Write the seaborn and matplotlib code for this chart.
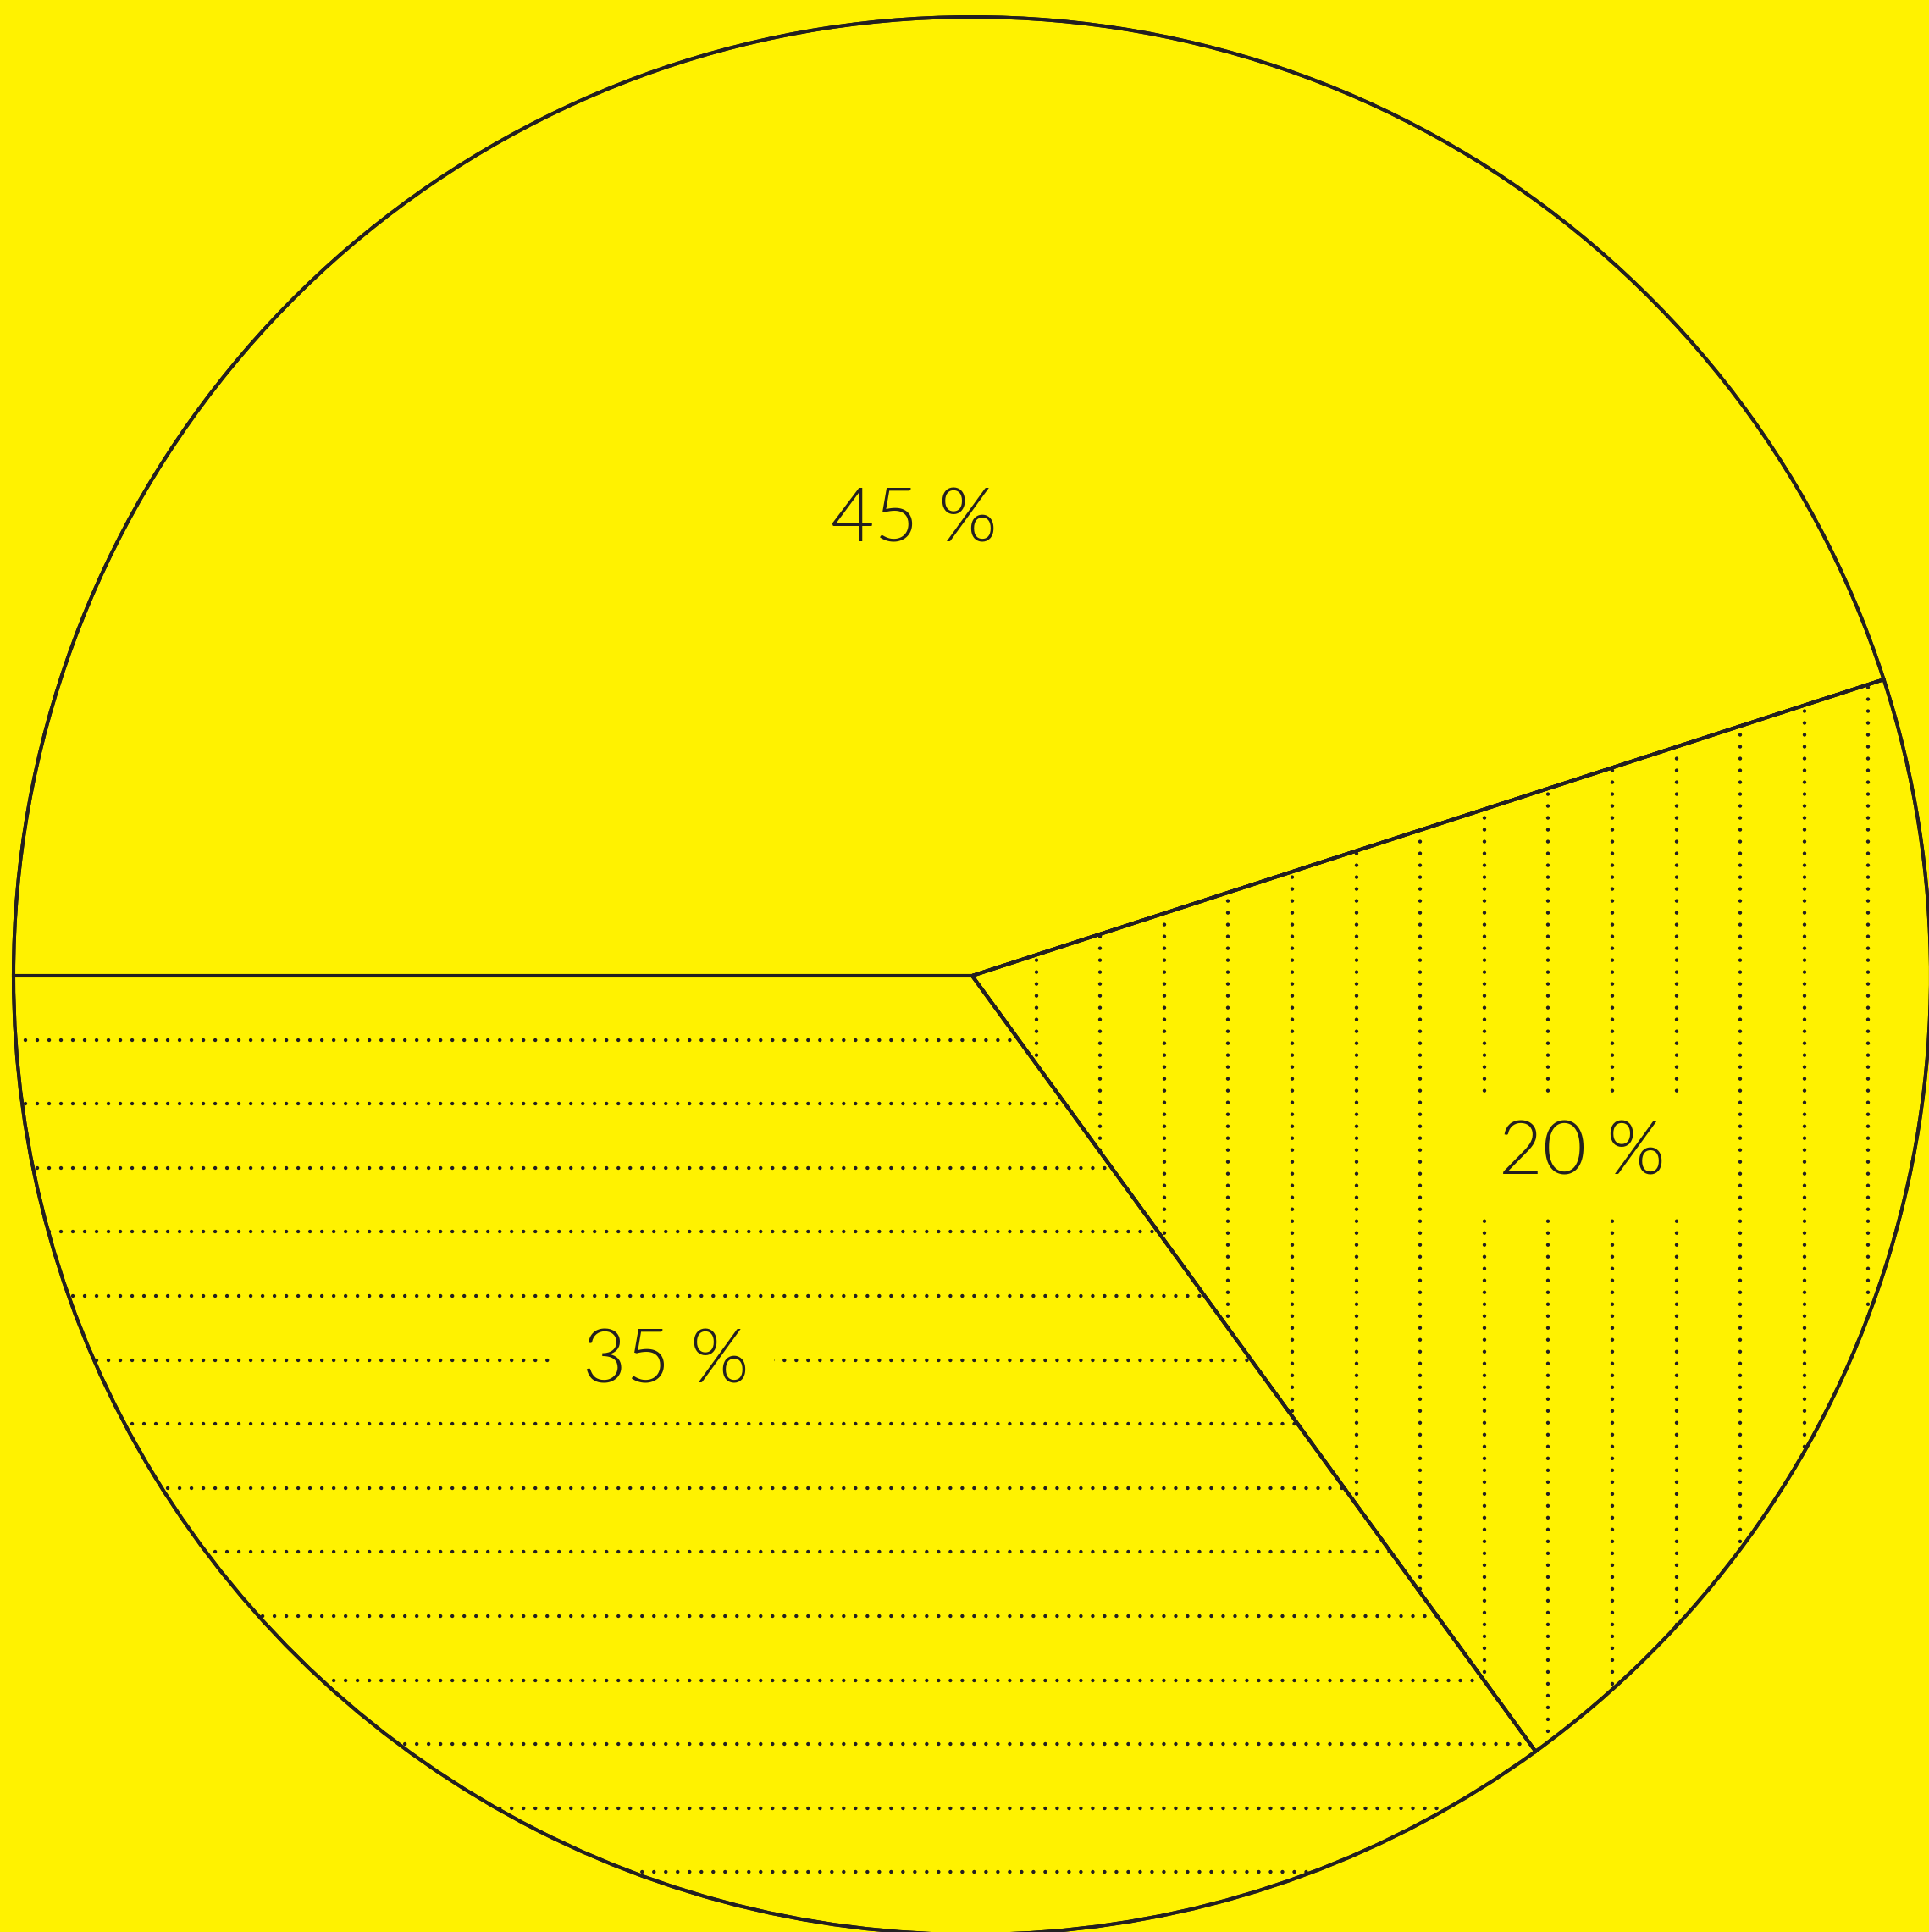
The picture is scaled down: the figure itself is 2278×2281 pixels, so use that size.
import numpy as np
import matplotlib
matplotlib.use("Agg")
import matplotlib.pyplot as plt
from matplotlib.patches import Wedge
import seaborn as sns

# --- Data ---
shares = [45, 20, 35]
labels = ["45 %", "20 %", "35 %"]
hatch_kind = [None, "vertical", "horizontal"]
# label spot per slice: (angle in degrees, distance as fraction of radius)
label_spots = [(97.2, 0.485), (-15.7, 0.661), (-128.9, 0.5095)]

# --- Style ---
YELLOW = "#FFF200"
DARK = "#231F20"
W, H = 2278, 2281
CX, CY, R = 1148, H - 1152, 1132
EDGE_LW = 2.9
STEP = 75.6      # spacing of the dotted hatch lines, in pixels
FONT_PT = 64
CAP_PX = 64      # digit height in pixels, used to centre the label on its digits

sns.set_theme(style="white")
plt.rcParams.update({
    "figure.facecolor": YELLOW,
    "axes.facecolor": YELLOW,
    "savefig.facecolor": YELLOW,
})
plt.rcParams["font.family"] = ["Lato", "DejaVu Sans"]

fig = plt.figure(figsize=(W / 100, H / 100), dpi=100)
ax = fig.add_axes([0, 0, 1, 1])

wedges, _ = ax.pie(
    shares, startangle=180, counterclock=False,
    colors=[YELLOW] * len(shares), center=(CX, CY), radius=R,
    wedgeprops=dict(edgecolor=DARK, linewidth=EDGE_LW),
)

# dotted hatching, clipped to the wedge
n_lines = int(R // STEP)
for w, kind in zip(wedges, hatch_kind):
    if kind is None:
        continue
    for k in range(1, n_lines + 1):
        if kind == "vertical":
            xs, ys = [CX + k * STEP] * 2, [CY - R, CY + R]
        else:
            xs, ys = [CX - R, CX + R], [CY - k * STEP] * 2
        ln, = ax.plot(xs, ys, color=DARK, lw=3.2, linestyle=(0, (0.001, 3.15)),
                      dash_capstyle="round", zorder=2)
        ln.set_clip_path(w)

# redraw outlines on top
for w in wedges:
    ax.add_patch(Wedge(w.center, w.r, w.theta1, w.theta2, fill=False,
                       edgecolor=DARK, linewidth=EDGE_LW, zorder=3))

for lab, (ang, dist) in zip(labels, label_spots):
    a = np.deg2rad(ang)
    ax.text(CX + dist * R * np.cos(a), CY + dist * R * np.sin(a) - CAP_PX / 2, lab,
            ha="center", va="baseline", fontsize=FONT_PT, fontweight=300,
            color=DARK, zorder=4,
            bbox=dict(boxstyle="square,pad=0.34", facecolor=YELLOW, edgecolor="none"))

ax.set_xlim(0, W)
ax.set_ylim(0, H)
ax.set_aspect("equal")
ax.axis("off")

plt.savefig("out.png", dpi=100, facecolor=YELLOW)
